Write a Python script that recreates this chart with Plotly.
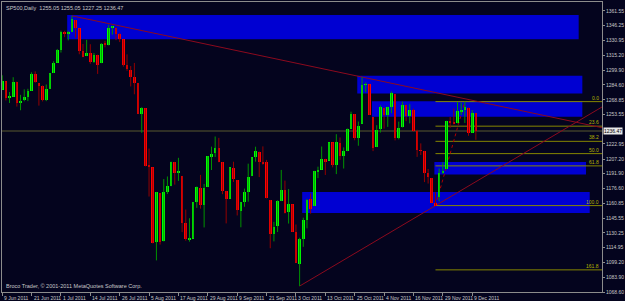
import plotly.graph_objects as go

# ---------------- data (SP500 daily, 9 Jun 2011 .. 12 Dec 2011) ----------------
opens = [1279.63, 1288.26, 1271.31, 1272.22, 1287.87, 1265.53, 1268.58, 1271.50, 1278.40, 1295.48,
         1286.60, 1283.04, 1268.44, 1280.21, 1296.85, 1307.64, 1320.64, 1339.59, 1337.56, 1339.62,
         1352.39, 1343.31, 1319.61, 1314.45, 1317.74, 1308.87, 1315.94, 1307.07, 1328.66, 1325.65,
         1343.80, 1344.32, 1337.39, 1331.91, 1304.84, 1300.12, 1292.59, 1286.56, 1254.25, 1260.23,
         1200.28, 1198.48, 1120.23, 1171.77, 1121.30, 1172.87, 1178.86, 1204.22, 1192.89, 1189.62,
         1140.47, 1123.55, 1124.36, 1162.16, 1176.69, 1158.85, 1177.91, 1209.76, 1213.00, 1219.12,
         1203.90, 1173.97, 1165.85, 1197.98, 1185.37, 1153.50, 1162.59, 1173.32, 1189.44, 1209.21,
         1214.99, 1204.50, 1203.63, 1164.55, 1128.82, 1136.91, 1163.32, 1175.39, 1151.74, 1159.93,
         1131.21, 1097.42, 1124.03, 1144.11, 1165.03, 1158.15, 1194.60, 1196.19, 1206.96, 1205.65,
         1224.47, 1200.75, 1223.46, 1209.92, 1215.39, 1238.72, 1254.19, 1229.17, 1243.97, 1284.39,
         1284.96, 1251.00, 1219.62, 1238.25, 1260.82, 1253.21, 1261.12, 1275.18, 1229.59, 1240.12,
         1263.85, 1251.70, 1257.81, 1236.56, 1216.19, 1215.62, 1192.98, 1187.48, 1161.41, 1168.00,
         1192.56, 1196.72, 1246.91, 1246.03, 1244.33, 1257.19, 1258.14, 1260.87, 1234.48, 1255.05]
highs = [1294.54, 1288.26, 1277.04, 1292.50, 1287.87, 1274.11, 1279.82, 1280.42, 1297.62, 1298.61,
         1286.60, 1283.93, 1284.91, 1296.80, 1309.21, 1321.97, 1341.01, 1340.89, 1340.94, 1356.48,
         1352.39, 1343.31, 1327.17, 1331.48, 1326.88, 1317.70, 1315.94, 1328.14, 1330.43, 1347.00,
         1346.10, 1344.32, 1338.51, 1331.91, 1316.32, 1304.16, 1307.38, 1286.56, 1261.20, 1260.23,
         1218.11, 1198.48, 1172.88, 1171.77, 1186.29, 1189.04, 1204.49, 1204.22, 1208.47, 1189.62,
         1154.54, 1145.49, 1162.35, 1178.56, 1190.68, 1181.23, 1210.28, 1220.10, 1230.71, 1229.29,
         1203.90, 1173.97, 1198.62, 1204.40, 1185.37, 1162.52, 1176.41, 1202.38, 1209.11, 1220.06,
         1214.99, 1220.39, 1206.30, 1164.55, 1141.72, 1164.19, 1195.86, 1184.71, 1175.87, 1159.93,
         1138.99, 1125.12, 1146.07, 1165.55, 1171.40, 1194.91, 1199.24, 1220.25, 1207.46, 1224.61,
         1224.47, 1233.10, 1229.64, 1219.36, 1239.03, 1256.55, 1254.19, 1246.28, 1292.66, 1287.08,
         1284.96, 1251.00, 1242.48, 1263.21, 1260.82, 1261.70, 1277.55, 1275.18, 1246.22, 1266.98,
         1263.85, 1264.25, 1259.61, 1237.73, 1223.51, 1215.62, 1196.81, 1187.48, 1172.66, 1197.35,
         1203.67, 1247.11, 1251.09, 1260.08, 1266.73, 1266.03, 1267.06, 1260.87, 1258.25, 1255.05]
lows = [1279.63, 1268.28, 1265.64, 1272.22, 1261.90, 1258.07, 1267.40, 1267.56, 1278.40, 1286.79,
        1262.87, 1267.24, 1267.53, 1280.21, 1296.85, 1307.64, 1318.18, 1334.30, 1330.92, 1339.62,
        1333.71, 1316.42, 1313.33, 1314.45, 1306.51, 1307.35, 1295.92, 1307.07, 1323.65, 1325.65,
        1336.95, 1331.09, 1329.10, 1303.49, 1299.16, 1282.86, 1274.73, 1254.03, 1234.56, 1199.54,
        1168.09, 1119.28, 1101.54, 1118.01, 1121.30, 1170.74, 1178.86, 1180.53, 1184.36, 1131.03,
        1122.05, 1121.09, 1124.36, 1156.30, 1155.47, 1135.91, 1177.91, 1195.77, 1209.35, 1203.85,
        1170.56, 1140.13, 1165.85, 1183.34, 1148.37, 1136.07, 1157.44, 1162.73, 1189.44, 1204.46,
        1188.36, 1201.29, 1166.21, 1114.22, 1121.36, 1131.07, 1163.32, 1150.40, 1139.93, 1131.34,
        1098.92, 1074.77, 1115.68, 1134.95, 1150.26, 1158.15, 1187.30, 1196.19, 1190.58, 1205.65,
        1198.55, 1191.48, 1206.31, 1197.34, 1215.39, 1238.72, 1226.79, 1221.06, 1243.97, 1277.01,
        1253.16, 1215.42, 1219.62, 1234.81, 1238.92, 1240.75, 1254.99, 1226.64, 1227.70, 1240.12,
        1246.68, 1244.34, 1235.67, 1209.43, 1211.36, 1183.16, 1181.65, 1161.79, 1158.66, 1163.00,
        1191.80, 1196.72, 1239.73, 1243.35, 1244.33, 1253.03, 1244.80, 1231.47, 1234.48, 1227.25]
closes = [1289.00, 1270.98, 1271.83, 1287.87, 1265.42, 1267.64, 1271.50, 1278.36, 1295.52, 1287.14,
          1283.50, 1268.45, 1280.10, 1296.67, 1307.41, 1320.64, 1339.67, 1337.88, 1339.22, 1353.22,
          1343.80, 1319.49, 1313.64, 1317.72, 1308.87, 1316.14, 1305.44, 1326.73, 1325.84, 1343.80,
          1345.02, 1337.43, 1331.94, 1304.89, 1300.67, 1292.28, 1286.94, 1254.05, 1260.34, 1200.07,
          1199.38, 1119.46, 1172.53, 1120.76, 1172.64, 1178.81, 1204.49, 1192.76, 1193.89, 1140.65,
          1123.53, 1123.82, 1162.35, 1177.60, 1159.27, 1176.80, 1210.08, 1212.92, 1218.89, 1204.42,
          1173.97, 1165.24, 1198.62, 1185.90, 1154.23, 1162.27, 1172.87, 1188.68, 1209.11, 1216.01,
          1204.09, 1202.09, 1166.76, 1129.56, 1136.43, 1162.95, 1175.38, 1151.06, 1160.40, 1131.42,
          1099.23, 1123.95, 1144.03, 1164.97, 1155.46, 1194.89, 1195.54, 1207.25, 1203.66, 1224.58,
          1200.86, 1225.38, 1209.88, 1215.39, 1238.25, 1254.19, 1229.05, 1242.00, 1284.59, 1285.09,
          1253.30, 1218.28, 1237.90, 1261.15, 1253.23, 1261.12, 1275.92, 1229.10, 1239.69, 1263.85,
          1251.78, 1257.81, 1236.91, 1216.13, 1215.65, 1192.98, 1188.04, 1161.79, 1158.67, 1192.55,
          1195.19, 1246.96, 1244.58, 1244.28, 1257.08, 1258.47, 1261.01, 1234.35, 1255.19, 1236.47]

date_tick_bars = [0, 8, 16, 24, 32, 40, 48, 56, 64, 72, 80, 88, 96, 104, 112, 120, 128]
date_tick_labels = ["9 Jun 2011", "21 Jun 2011", "1 Jul 2011", "14 Jul 2011", "26 Jul 2011",
                    "5 Aug 2011", "17 Aug 2011", "29 Aug 2011", "9 Sep 2011", "21 Sep 2011",
                    "3 Oct 2011", "13 Oct 2011", "25 Oct 2011", "4 Nov 2011", "16 Nov 2011",
                    "29 Nov 2011", "9 Dec 2011"]
price_ticks = [1361.55, 1346.25, 1330.95, 1315.20, 1299.90, 1284.60, 1268.85, 1253.55,
               1222.95, 1207.20, 1191.90, 1176.60, 1160.85, 1145.55, 1130.25, 1114.95,
               1099.20, 1083.90, 1068.60]

# supply / demand zones: (first bar, last bar, lower price, upper price)
zone_bars_from = [18, 97, 101, 118, 82]
zone_bars_to = [157, 158, 158, 159, 160]
zone_low = [1332.2, 1275.6, 1251.2, 1191.2, 1151.0]
zone_high = [1357.4, 1294.0, 1267.5, 1204.0, 1172.8]

# trend lines anchored on bar highs / lows
upper_trend_bars = [19, 98]   # highs
lower_trend_bars = [81, 118]  # lows
# fibonacci: from low bar to high bar
fib_low_bar, fib_high_bar = 118, 126
fib_levels = [0.0, 23.6, 38.2, 50.0, 61.8, 100.0, 161.8]

# ---------------- styling ----------------
BG = "#04041e"
AX = "#8c8c8c"
TXT = "#c8c8c8"
FONT = "Liberation Sans"
X_RANGE = [-0.05, 163.35]
Y_RANGE = [1068.6, 1370.9]

n = len(closes)
bars = list(range(n))

fig = go.Figure()

# wicks
for up, col in ((True, "#009400"), (False, "#940000")):
    wx, wy = [], []
    for i in bars:
        if (closes[i] >= opens[i]) == up:
            wx += [i, i, None]
            wy += [lows[i], highs[i], None]
    fig.add_trace(go.Scatter(x=wx, y=wy, mode="lines", line=dict(color=col, width=1),
                             hoverinfo="skip"))

# bodies
body_base = [min(o, c) for o, c in zip(opens, closes)]
body_len = [max(abs(c - o), 0.9) for o, c in zip(opens, closes)]
body_col = ["#00ff00" if c >= o else "#ff0000" for o, c in zip(opens, closes)]
fig.add_trace(go.Bar(x=bars, y=body_len, base=body_base, width=0.72,
                     marker=dict(color=body_col, line=dict(width=0)), hoverinfo="skip"))

shapes = []
for x0, x1, y0, y1 in zip(zone_bars_from, zone_bars_to, zone_low, zone_high):
    shapes.append(dict(type="rect", xref="x", yref="y", x0=x0 - 0.3, x1=x1, y0=y0, y1=y1,
                       fillcolor="#0000d2", line=dict(width=0), layer="below"))

# bid line
shapes.append(dict(type="line", xref="x", yref="y", x0=X_RANGE[0], x1=X_RANGE[1],
                   y0=closes[-1], y1=closes[-1], line=dict(color="#2e2e26", width=2), layer="below"))

# fibonacci levels
f_hi = highs[fib_high_bar]
f_lo = lows[fib_low_bar]
for lv in fib_levels:
    p = f_hi - (f_hi - f_lo) * lv / 100.0
    shapes.append(dict(type="line", xref="x", yref="y", x0=fib_low_bar, x1=X_RANGE[1],
                       y0=p, y1=p, line=dict(color="#868600", width=1), layer="below"))
shapes.append(dict(type="line", xref="x", yref="y", x0=fib_low_bar, x1=fib_high_bar,
                   y0=f_lo, y1=f_hi, line=dict(color="#b00000", width=1, dash="dot"), layer="below"))

# trend rays
def ray(b0, p0, b1, p1):
    slope = (p1 - p0) / (b1 - b0)
    return dict(type="line", xref="x", yref="y", x0=b0, y0=p0, x1=X_RANGE[1],
                y1=p0 + slope * (X_RANGE[1] - b0), line=dict(color="#8c0a1e", width=1), layer="below")

shapes.append(ray(upper_trend_bars[0], highs[upper_trend_bars[0]],
                  upper_trend_bars[1], highs[upper_trend_bars[1]]))
shapes.append(ray(lower_trend_bars[0], lows[lower_trend_bars[0]],
                  lower_trend_bars[1], lows[lower_trend_bars[1]]))

annotations = []
for lv in fib_levels:
    p = f_hi - (f_hi - f_lo) * lv / 100.0
    annotations.append(dict(xref="x", yref="y", x=X_RANGE[1], y=p, text=f"{lv:.1f}",
                            xanchor="right", yanchor="bottom", showarrow=False, xshift=-1, yshift=-1,
                            font=dict(family=FONT, size=5, color="#b4b400")))
for b, t in zip(date_tick_bars, date_tick_labels):
    annotations.append(dict(xref="x", yref="paper", x=b, y=0, text=t, xanchor="left",
                            yanchor="top", showarrow=False, xshift=0, yshift=-1,
                            font=dict(family=FONT, size=5, color=TXT)))
annotations.append(dict(xref="paper", yref="paper", x=0, y=1, xanchor="left", yanchor="top",
                        text="SP500,Daily  %.2f %.2f %.2f %.2f" % (opens[-1], highs[-1], lows[-1], closes[-1]),
                        showarrow=False, xshift=2, yshift=-1,
                        font=dict(family=FONT, size=5.5, color=TXT)))
annotations.append(dict(xref="paper", yref="paper", x=0, y=0, xanchor="left", yanchor="bottom",
                        text="Broco Trader, © 2001-2011 MetaQuotes Software Corp.",
                        showarrow=False, xshift=2, yshift=1,
                        font=dict(family=FONT, size=5.5, color=TXT)))
annotations.append(dict(xref="paper", yref="y", x=1, y=closes[-1], xanchor="left", yanchor="middle",
                        text="%.2f" % closes[-1], showarrow=False, xshift=1, bgcolor="#e8e8e8",
                        borderpad=0, font=dict(family=FONT, size=5, color="#000000")))

fig.update_layout(
    width=625, height=301,
    margin=dict(l=1, r=18, t=1, b=9, pad=0),
    paper_bgcolor=BG, plot_bgcolor=BG,
    showlegend=False, bargap=0,
    shapes=shapes, annotations=annotations,
    font=dict(family=FONT, size=5, color=TXT),
    xaxis=dict(range=X_RANGE, tickmode="array", tickvals=date_tick_bars, showticklabels=False,
               ticks="outside", ticklen=3, tickcolor=AX, showline=True, linecolor=AX,
               linewidth=1, mirror=True, showgrid=False, zeroline=False, fixedrange=True),
    yaxis=dict(range=Y_RANGE, side="right", tickmode="array", tickvals=price_ticks,
               ticktext=["%.2f" % v for v in price_ticks], ticks="outside", ticklen=2,
               tickcolor=AX, tickfont=dict(family=FONT, size=5, color=TXT),
               showline=True, linecolor=AX, linewidth=1, mirror=True, showgrid=False,
               zeroline=False, fixedrange=True),
)

fig.write_html("out.html", config={"displayModeBar": False})
